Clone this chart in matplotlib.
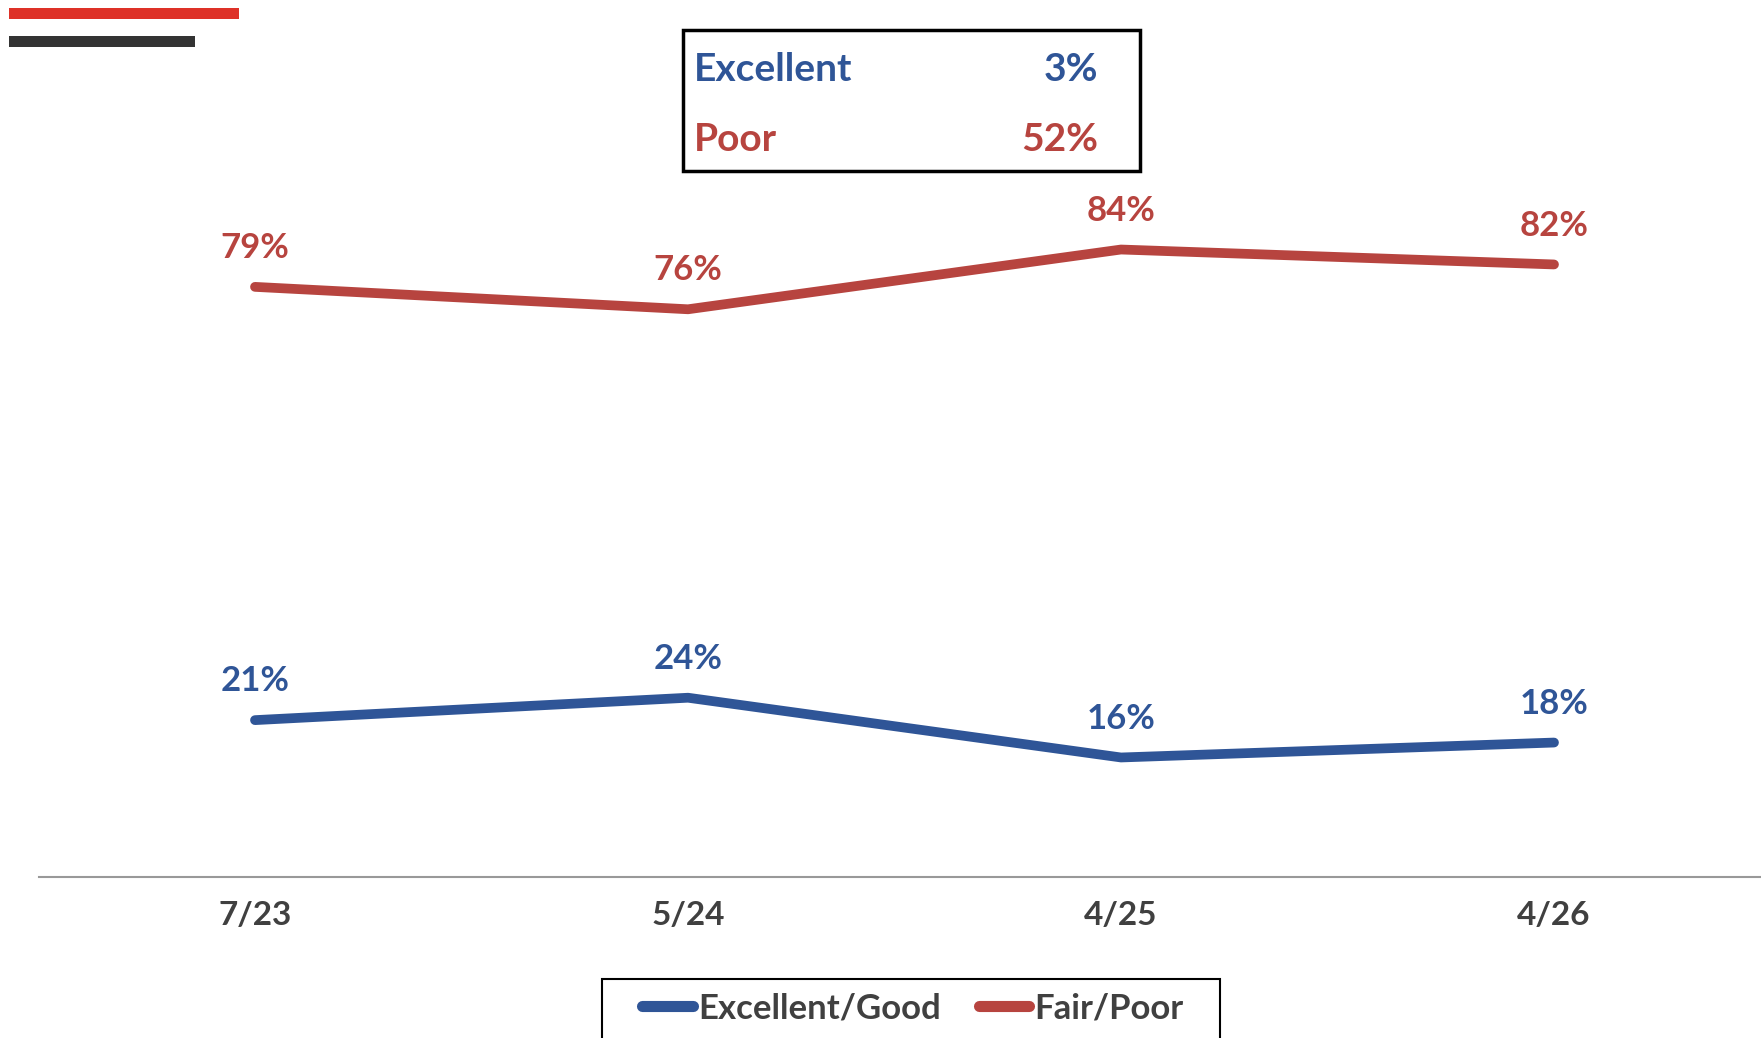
import matplotlib
matplotlib.use('Agg')
import matplotlib.pyplot as plt
from matplotlib.patches import Rectangle

plt.rcParams['font.family'] = ['Lato', 'DejaVu Sans']
plt.rcParams['font.weight'] = 'bold'

# data
dates = ['7/23', '5/24', '4/25', '4/26']
good = [21, 24, 16, 18]
poor = [79, 76, 84, 82]
series_names = ['Excellent/Good', 'Fair/Poor']
box_labels = ['Excellent', 'Poor']
box_values = ['3%', '52%']

blue = '#2F5597'
red = '#B7443F'
grey = '#404040'

W, H = 1761, 1038
fig = plt.figure(figsize=(W / 100, H / 100), dpi=100)

# axes: x=-0.5 at px 38.5, spacing 433 px; y 0..100 from px 877 to 130
left = 38.5 / W
width = 433 * 4 / W
bottom = 1 - 877 / H
height = (877 - 130) / H
ax = fig.add_axes([left, bottom, width, height])
ax.set_xlim(-0.5, 3.5)
ax.set_ylim(0, 100)

x = range(len(dates))
ax.plot(x, good, color=blue, lw=7, solid_capstyle='round', solid_joinstyle='round', label=series_names[0])
ax.plot(x, poor, color=red, lw=7, solid_capstyle='round', solid_joinstyle='round', label=series_names[1])

for i in x:
    ax.annotate(f'{good[i]}%', (i, good[i]), xytext=(0, 28), textcoords='offset points',
                ha='center', va='center', color=blue, fontsize=25, fontweight='bold')
    ax.annotate(f'{poor[i]}%', (i, poor[i]), xytext=(0, 28), textcoords='offset points',
                ha='center', va='center', color=red, fontsize=25, fontweight='bold')

for s in ['top', 'right', 'left']:
    ax.spines[s].set_visible(False)
ax.spines['bottom'].set_color('#999999')
ax.spines['bottom'].set_linewidth(1.5)
ax.set_yticks([])
ax.set_xticks(list(x))
ax.set_xticklabels(dates, fontsize=24, fontweight='bold', color=grey)
ax.tick_params(axis='x', length=0, pad=17)

# top-left accent bars
fig.add_artist(Rectangle((9 / W, 1 - 19 / H), 230 / W, 11 / H, transform=fig.transFigure,
                         color='#DE3128', lw=0))
fig.add_artist(Rectangle((9 / W, 1 - 47 / H), 186 / W, 11 / H, transform=fig.transFigure,
                         color='#333333', lw=0))

# summary box
fig.add_artist(Rectangle((683 / W, 1 - 171 / H), 457 / W, 141 / H, transform=fig.transFigure,
                         facecolor='white', edgecolor='black', lw=2.5))
rows_y = [69.5, 139.5]
cols = [blue, red]
for lab, val, yy, c in zip(box_labels, box_values, rows_y, cols):
    fig.text(694 / W, 1 - yy / H, lab, color=c, fontsize=28, fontweight='bold', ha='left', va='center')
    fig.text(1098 / W, 1 - yy / H, val, color=c, fontsize=28, fontweight='bold', ha='right', va='center')

# legend frame drawn by hand, legend entries inside it
fig.add_artist(Rectangle((602 / W, 1 - 1045 / H), 618 / W, 66 / H, transform=fig.transFigure,
                         facecolor='white', edgecolor='black', lw=1.5))
leg = fig.legend(loc='center', bbox_to_anchor=(913 / W, 1 - 1008 / H), ncol=2,
                 frameon=False, handlelength=1.45, handletextpad=0.15,
                 columnspacing=1.1, borderpad=0, borderaxespad=0,
                 prop={'size': 25, 'weight': 'bold'})
for t in leg.get_texts():
    t.set_color(grey)
for ln in leg.get_lines():
    ln.set_linewidth(8)

fig.savefig('out.png', dpi=100)
